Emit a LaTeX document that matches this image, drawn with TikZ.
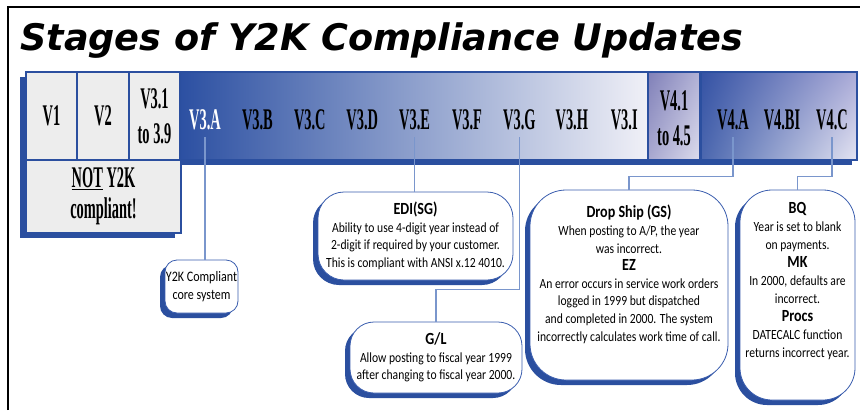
\documentclass[tikz,border=0pt]{standalone}
\usepackage{fontspec}
\setmainfont{Carlito}
\newfontfamily\titlefont{DejaVu Sans}
\newfontfamily\verfont[FakeStretch=0.48]{Liberation Serif}
\newfontfamily\notefont[FakeStretch=0.83]{Carlito}
\usepackage{tikz}
\usetikzlibrary{positioning, calc, shadows, shadings}
\definecolor{barblue}{RGB}{43,79,159}
\definecolor{deepblue}{RGB}{44,80,162}
\definecolor{paleblue}{RGB}{240,240,247}
\definecolor{linkblue}{RGB}{122,150,204}
\definecolor{cellgrey}{RGB}{237,237,237}
\definecolor{edgeblue}{RGB}{58,93,174}
\definecolor{lavul}{RGB}{128,128,184}
\definecolor{lavur}{RGB}{178,178,214}
\definecolor{lavll}{RGB}{168,168,208}
\definecolor{lavlr}{RGB}{220,220,236}
\definecolor{fourul}{RGB}{52,82,164}
\definecolor{fourur}{RGB}{172,172,216}
\definecolor{fourll}{RGB}{74,102,174}
\definecolor{fourlr}{RGB}{228,228,242}
\newcommand{\callhd}[1]{{\bfseries\fontsize{17}{18}\selectfont #1}}
\tikzset{
  cell/.style={rectangle,draw=barblue,fill=cellgrey,line width=1.4pt,minimum height=88pt,
    inner sep=0pt,align=center,font=\verfont\bfseries\fontsize{30}{35}\selectfont},
  ver/.style={inner sep=0pt,minimum height=34pt,align=center,
    font=\verfont\bfseries\fontsize{30}{35}\selectfont},
  callout/.style={rectangle,draw=edgeblue,fill=white,line width=0.8pt,align=center,
    inner xsep=0pt,inner ysep=2pt,font=\notefont\fontsize{14}{17.6}\selectfont,
    drop shadow={shadow xshift=-5pt,shadow yshift=-5pt,fill=barblue,opacity=1}},
  link/.style={draw=linkblue,line width=1.2pt}
}

\begin{document}
\begin{tikzpicture}[x=1pt,y=-1pt]
  \useasboundingbox (0,0) rectangle (860,410);

  % Frame and title
  \draw[line width=2pt] (8,410) -- (8,7) -- (860,7);
  \node[anchor=base west, inner sep=0pt, font=\titlefont\bfseries\itshape\fontsize{36.6}{40}\selectfont]
    (title) at (20,50) {Stages of Y2K Compliance Updates};

  % Bar shadow
  \fill[fill=barblue] (20,77) rectangle (852,165);
  \fill[fill=barblue] (20,165) rectangle (175,238);

  % Version bar
  \shade[left color=deepblue, right color=paleblue] (180,72) rectangle (648,160);
  \shade[upper left=lavul, upper right=lavur, lower left=lavll, lower right=lavlr]
    (648,72) rectangle (700,160);
  \shade[upper left=fourul, upper right=fourur, lower left=fourll, lower right=fourlr]
    (700,72) rectangle (857,160);
  \draw[draw=barblue, line width=1.5pt] (26,72) rectangle (857,160);
  \draw[draw=barblue, line width=2pt] (648,72) -- (648,160);
  \draw[draw=barblue, line width=3pt] (700,72) -- (700,160);

  % Not compliant cells
  \node[cell, minimum width=51pt] (v1) at (51.5,116) {V1};
  \node[cell, minimum width=52pt] (v2) at (103,116) {V2};
  \node[cell, minimum width=51pt] (v31) at (154.5,116) {V3.1\\to 3.9};
  \node[cell, minimum width=155pt, minimum height=73pt, font=\verfont\bfseries\fontsize{30}{31}\selectfont]
    (noty2k) at (103.5,196.5) {\underline{NOT} Y2K\\compliant!};

  % Version labels
  \node[ver, text=white] (v3A) at (205,120) {V3.A};
  \foreach \v [count=\i] in {B,C,D,E,F,G,H,I}
    \node[ver] (v3\v) at (205+52.4*\i,120) {V3.\v};
  \node[ver] (v41) at (674,118) {V4.1\\to 4.5};
  \node[ver] (v4a) at (733,120) {V4.A};
  \node[ver] (v4bi) at (782,120) {V4.BI};
  \node[ver] (v4c) at (832,120) {V4.C};

  % Callouts
  \node[callout, minimum width=73pt, minimum height=53pt, rounded corners=12pt,
    font=\notefont\fontsize{14.5}{18}\selectfont] (core) at (201.5,286.5) {Y2K Compliant\\core system};
  \node[callout, minimum width=195pt, minimum height=88pt, rounded corners=26pt] (edi) at (415.5,236)
    {\callhd{EDI(SG)}\\Ability to use 4-digit year instead of\\2-digit if required by your customer.\\This is compliant with ANSI x.12 4010.};
  \node[callout, minimum width=172pt, minimum height=71pt, rounded corners=24pt] (gl) at (436,357.5)
    {\callhd{G/L}\\Allow posting to fiscal year 1999\\after changing to fiscal year 2000.};
  \node[callout, minimum width=198pt, minimum height=190pt, rounded corners=36pt] (dropship) at (629,285)
    {\callhd{Drop Ship (GS)}\\When posting to A/P, the year\\was incorrect.\\\callhd{EZ}\\An error occurs in service work orders\\logged in 1999 but dispatched\\and completed in 2000. The system\\incorrectly calculates work time of call.\\[6pt]};
  \node[callout, minimum width=115pt, minimum height=210pt, rounded corners=32pt,
    font=\notefont\fontsize{14}{18}\selectfont] (bq) at (797.5,295)
    {\callhd{BQ}\\Year is set to blank\\on payments.\\\callhd{MK}\\In 2000, defaults are\\incorrect.\\\callhd{Procs}\\DATECALC function\\returns incorrect year.\\[12pt]};

  % Connectors
  \draw[link] (v3A.south) -- (v3A.south |- core.north);
  \draw[link] (v3E.south) -- (v3E.south |- edi.north);
  \draw[link] (v3G.south) -- ++(0,152) -| (gl.north);
  \draw[link] (v4a.south) -- ++(0,39) -| (dropship.north);
  \draw[link] (v4c.south) -- ++(0,39) -| (bq.north);
\end{tikzpicture}
\end{document}
